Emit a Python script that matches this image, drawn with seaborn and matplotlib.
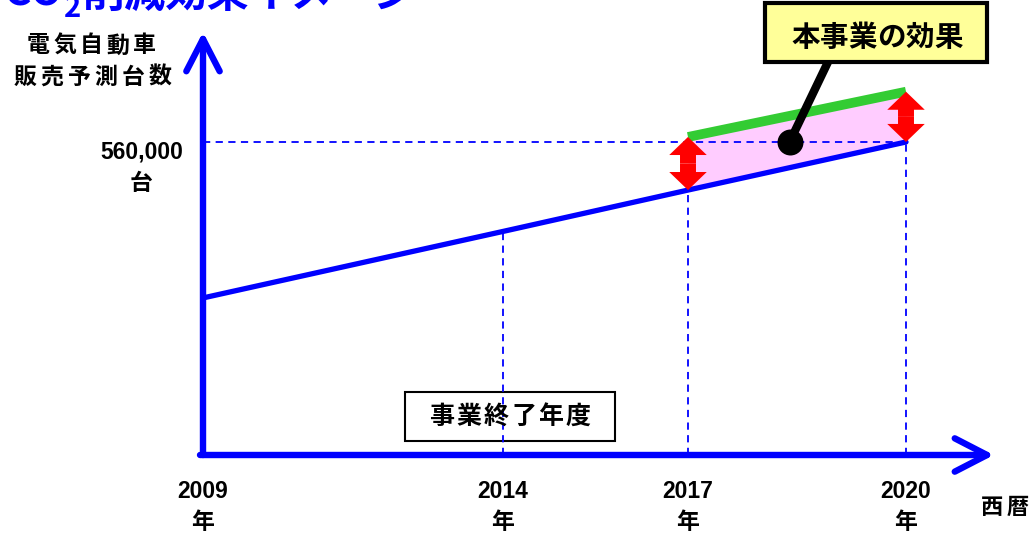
import numpy as np
import matplotlib
matplotlib.use("Agg")
import matplotlib.pyplot as plt
import seaborn as sns
from matplotlib.patches import FancyArrowPatch, Rectangle

# ---- data ----
years = [2009, 2014, 2017, 2020]
forecast_units = [281000, 400000, 474000, 560000]   # 電気自動車 販売予測台数
effect_years = [2017, 2020]
effect_units = [569000, 650000]                      # 本事業の効果を上乗せした台数
marked_value = 560000
year_labels = ["2009\n年", "2014\n年", "2017\n年", "2020\n年"]
value_label = "560,000\n台"
callout_year = 2018.4

W, H = 1032, 533
sns.set_theme(style="white")
plt.rcParams["font.family"] = ["Noto Sans CJK JP", "DejaVu Sans"]
plt.rcParams["font.weight"] = "bold"

BLUE = "#0000FF"
GREEN = "#33CC33"
RED = "#FF0000"
PINK = "#FFCCFF"
NUM_FONT = ["Liberation Sans", "Noto Sans CJK JP"]

# schematic (non-uniform) spacing of the year axis
_yr = np.array([2009.0, 2014.0, 2017.0, 2020.0])
_px = np.array([203.0, 503.0, 688.0, 906.0])
_lo = (_px[1] - _px[0]) / (_yr[1] - _yr[0])
_hi = (_px[-1] - _px[-2]) / (_yr[-1] - _yr[-2])


def year_fwd(x):
    x = np.asarray(x, float)
    y = np.interp(x, _yr, _px)
    y = np.where(x < _yr[0], _px[0] + (x - _yr[0]) * _lo, y)
    y = np.where(x > _yr[-1], _px[-1] + (x - _yr[-1]) * _hi, y)
    return y


def year_inv(p):
    p = np.asarray(p, float)
    x = np.interp(p, _px, _yr)
    x = np.where(p < _px[0], _yr[0] + (p - _px[0]) / _lo, x)
    x = np.where(p > _px[-1], _yr[-1] + (p - _px[-1]) / _hi, x)
    return x


UNITS_PER_PX = 560000 / 313.0

fig = plt.figure(figsize=(W / 100, H / 100), dpi=100)
ax = fig.add_axes([203 / W, 78 / H, (W - 203) / W, 455 / H])
ax.set_xscale("function", functions=(year_fwd, year_inv))
ax.set_xlim(2009, float(year_inv(W)))
ax.set_ylim(0, 455 * UNITS_PER_PX)
for s in ax.spines.values():
    s.set_visible(False)
ax.set_yticks([])
ax.patch.set_alpha(0)

# effect band between forecast and improved forecast
base_at_effect = np.interp(effect_years, years, forecast_units)
ax.fill_between(effect_years, base_at_effect, effect_units, color=PINK, lw=0, zorder=1)

# "事業終了年度" box (under the guide lines)
ax.add_patch(Rectangle((405 / W, 1 - 441 / H), 210 / W, 49 / H, transform=fig.transFigure,
                       fc="white", ec="black", lw=1.5, zorder=1.5))

# guide lines
dash = (0, (4, 3))
ax.hlines(marked_value, years[0], years[-1], colors=BLUE, linestyles=dash, lw=1.3, zorder=2)
ax.vlines(years[1:], 0, forecast_units[1:], colors=BLUE, linestyles=dash, lw=1.3, zorder=2)

# forecast and effect lines
sns.lineplot(x=years, y=forecast_units, color=BLUE, lw=3.8, ax=ax, zorder=3)
sns.lineplot(x=effect_years, y=effect_units, color=GREEN, lw=7, ax=ax, zorder=3,
             solid_capstyle="butt")

# axes drawn as thick arrows
axis_kw = dict(arrowstyle="->,head_length=1.55,head_width=0.8", lw=4.6, color=BLUE,
               shrinkA=0, shrinkB=0, mutation_scale=15, capstyle="round", joinstyle="round")
ax.annotate("", xy=(2009, 423 * UNITS_PER_PX), xytext=(2009, 0), arrowprops=axis_kw,
            annotation_clip=False, zorder=4)
ax.annotate("", xy=(float(year_inv(994)), 0), xytext=(float(year_inv(200)), 0),
            arrowprops=axis_kw, annotation_clip=False, zorder=4)

# red double-headed arrows showing the gain
for yr, lo, hi in zip(effect_years, base_at_effect, effect_units):
    mid = (lo + hi) / 2
    for end in (lo, hi):
        ax.add_patch(FancyArrowPatch((yr, mid), (yr, end),
                                     arrowstyle="simple,head_length=13,head_width=27,tail_width=11.5",
                                     mutation_scale=1, color=RED, lw=0,
                                     shrinkA=0, shrinkB=0, zorder=5))

# callout pointing into the band
c_lo = np.interp(callout_year, years, forecast_units)
c_hi = np.interp(callout_year, effect_years, effect_units)
c_mid = (c_lo + c_hi) / 2
ax.annotate("", xy=(callout_year, c_mid), xytext=(828, H - 62), textcoords="figure pixels",
            arrowprops=dict(arrowstyle="-", lw=6, color="black", shrinkA=0, shrinkB=0),
            annotation_clip=False, zorder=6)
ax.scatter([callout_year], [c_mid], s=350, color="black", zorder=7, linewidths=0)
fig.add_artist(Rectangle((765 / W, 1 - 62 / H), 222 / W, 59 / H, transform=fig.transFigure,
                         fc="#FFFF99", ec="black", lw=3, zorder=8))

# x tick labels
ax.set_xticks(years, labels=year_labels)
ax.tick_params(axis="x", length=0, pad=18)
for lab in ax.get_xticklabels():
    lab.set_fontfamily(NUM_FONT)
    lab.set_fontsize(16.5)
    lab.set_fontweight("bold")
    lab.set_linespacing(1.45)
    lab.set_color("black")

# value label on the y axis
ax.annotate(value_label, xy=(0, marked_value), xycoords=("axes fraction", "data"),
            xytext=(-20, 2), textcoords="offset pixels", ha="right", va="top",
            multialignment="center", fontsize=16.5, fontweight="bold", linespacing=1.5,
            family=NUM_FONT, color="black", annotation_clip=False)


def spaced(x, y, s, size, pitch, color="black", zorder=9):
    x0 = x - pitch * (len(s) - 1) / 2
    for i, ch in enumerate(s):
        fig.text((x0 + i * pitch) / W, 1 - y / H, ch, ha="center", va="center",
                 fontsize=size, fontweight="bold", color=color, zorder=zorder)


spaced(91, 46, "電気自動車", 16.5, 26.5)
spaced(92.5, 77, "販売予測台数", 16.5, 27)
spaced(1005, 507, "西暦", 16, 25)
spaced(510, 417, "事業終了年度", 18, 27.3)
spaced(877, 38, "本事業の効果", 20.5, 28.5)

# heading (partly above the top edge)
fig.text(4 / W, 1 - 5 / H, "CO", ha="left", va="baseline", fontsize=30,
         fontweight="bold", color=BLUE)
fig.text(64 / W, 1 - 17 / H, "2", ha="left", va="baseline", fontsize=21,
         fontweight="bold", color=BLUE)
fig.text(82 / W, 1 - 7 / H, "削減効果イメージ", ha="left", va="baseline", fontsize=30,
         fontweight="bold", color=BLUE)

fig.savefig("out.png", dpi=100)
